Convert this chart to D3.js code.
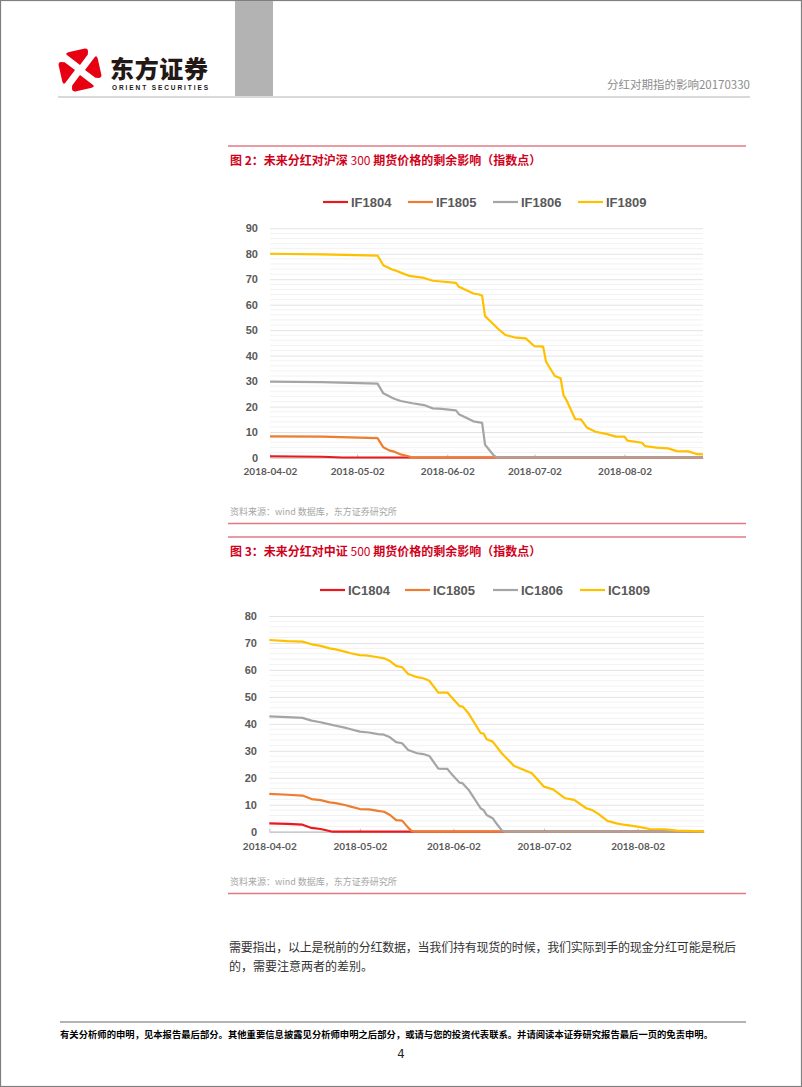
<!DOCTYPE html>
<html><head><meta charset="utf-8">
<script src="https://cdn.jsdelivr.net/npm/d3@7"></script>
<style>
html,body{margin:0;padding:0;background:#fff;}
svg{display:block;}
</style></head>
<body>
<svg id="page" width="802" height="1087"></svg>
<script>
// ---------- DATA ----------
const xTickLabels = ["2018-04-02","2018-05-02","2018-06-02","2018-07-02","2018-08-02"];
const ifYTicks = [0,10,20,30,40,50,60,70,80,90];
const icYTicks = [0,10,20,30,40,50,60,70,80];
const ifNames = ["IF1804","IF1805","IF1806","IF1809"];
const icNames = ["IC1804","IC1805","IC1806","IC1809"];
const seriesColors = ["#e8191f","#ed7d31","#a5a5a5","#ffc000"];

const IF1804 = [["2018-04-02",0.5],["2018-04-20",0.3],["2018-04-27",0],["2018-08-29",0]];
const IF1805 = [["2018-04-02",8.3],["2018-04-20",8.2],["2018-05-09",7.6],["2018-05-11",4.0],["2018-05-13",2.8],["2018-05-15",2.2],["2018-05-17",1.2],["2018-05-19",0.7],["2018-05-21",0],["2018-08-29",0]];
const IF1806 = [["2018-04-02",29.8],["2018-04-20",29.6],["2018-05-09",29.0],["2018-05-11",25.2],["2018-05-14",23.5],["2018-05-15",23.0],["2018-05-17",22.2],["2018-05-21",21.3],["2018-05-25",20.6],["2018-05-28",19.3],["2018-05-31",19.1],["2018-06-05",18.5],["2018-06-06",17.0],["2018-06-11",14.2],["2018-06-13",13.8],["2018-06-14",13.6],["2018-06-15",5.0],["2018-06-18",0.8],["2018-06-19",0],["2018-08-29",0]];
const IF1809 = [["2018-04-02",80.0],["2018-04-20",79.8],["2018-05-09",79.3],["2018-05-11",75.5],["2018-05-14",73.8],["2018-05-15",73.5],["2018-05-17",72.6],["2018-05-20",71.3],["2018-05-25",70.5],["2018-05-28",69.4],["2018-05-30",69.2],["2018-06-05",68.6],["2018-06-06",67.0],["2018-06-11",64.4],["2018-06-13",64.0],["2018-06-14",63.5],["2018-06-15",55.5],["2018-06-17",53.3],["2018-06-20",50.0],["2018-06-22",48.1],["2018-06-25",47.2],["2018-06-29",46.8],["2018-07-02",43.7],["2018-07-05",43.5],["2018-07-06",37.6],["2018-07-09",32.0],["2018-07-11",31.1],["2018-07-12",24.5],["2018-07-13",22.6],["2018-07-16",15.1],["2018-07-18",15.0],["2018-07-20",11.8],["2018-07-23",10.1],["2018-07-27",9.2],["2018-07-30",8.2],["2018-08-02",8.2],["2018-08-03",6.6],["2018-08-08",5.8],["2018-08-09",4.5],["2018-08-13",3.9],["2018-08-17",3.6],["2018-08-20",2.5],["2018-08-24",2.4],["2018-08-27",1.3],["2018-08-29",1.2]];

const IC1804 = [["2018-04-02",3.1],["2018-04-08",2.9],["2018-04-13",2.6],["2018-04-16",1.4],["2018-04-19",1.0],["2018-04-23",0],["2018-08-24",0]];
const IC1805 = [["2018-04-02",14.0],["2018-04-08",13.7],["2018-04-13",13.4],["2018-04-16",12.1],["2018-04-19",11.7],["2018-04-22",10.9],["2018-04-24",10.6],["2018-04-27",9.9],["2018-04-29",9.3],["2018-05-02",8.4],["2018-05-05",8.3],["2018-05-08",7.7],["2018-05-10",7.4],["2018-05-12",6.2],["2018-05-14",4.3],["2018-05-16",4.1],["2018-05-18",1.5],["2018-05-19",0.4],["2018-05-20",0],["2018-08-24",0]];
const IC1806 = [["2018-04-02",42.8],["2018-04-08",42.5],["2018-04-13",42.2],["2018-04-16",41.2],["2018-04-19",40.6],["2018-04-22",39.8],["2018-04-24",39.3],["2018-04-27",38.6],["2018-04-29",38.0],["2018-05-02",37.1],["2018-05-05",36.8],["2018-05-08",36.2],["2018-05-10",36.0],["2018-05-12",35.0],["2018-05-14",33.2],["2018-05-16",32.8],["2018-05-18",30.3],["2018-05-21",29.1],["2018-05-23",28.8],["2018-05-25",28.1],["2018-05-28",23.4],["2018-05-31",23.3],["2018-06-01",21.9],["2018-06-04",18.2],["2018-06-05",18.0],["2018-06-07",15.6],["2018-06-11",8.7],["2018-06-12",8.0],["2018-06-13",6.2],["2018-06-15",5.0],["2018-06-16",3.4],["2018-06-18",0.5],["2018-06-19",0],["2018-08-24",0]];
const IC1809 = [["2018-04-02",71.1],["2018-04-08",70.7],["2018-04-13",70.5],["2018-04-16",69.5],["2018-04-19",68.9],["2018-04-22",68.0],["2018-04-24",67.6],["2018-04-27",66.8],["2018-04-29",66.2],["2018-05-02",65.5],["2018-05-04",65.4],["2018-05-08",64.7],["2018-05-10",64.3],["2018-05-12",63.3],["2018-05-14",61.5],["2018-05-16",61.0],["2018-05-18",58.5],["2018-05-21",57.3],["2018-05-23",56.9],["2018-05-25",56.0],["2018-05-28",51.6],["2018-05-31",51.6],["2018-06-01",50.3],["2018-06-04",46.6],["2018-06-05",46.4],["2018-06-07",43.9],["2018-06-11",36.6],["2018-06-12",36.4],["2018-06-13",34.3],["2018-06-15",33.4],["2018-06-18",29.1],["2018-06-22",24.5],["2018-06-25",23.1],["2018-06-28",21.7],["2018-07-02",16.7],["2018-07-05",15.7],["2018-07-09",12.4],["2018-07-12",11.8],["2018-07-16",8.7],["2018-07-18",8.0],["2018-07-20",6.6],["2018-07-23",4.0],["2018-07-26",3.1],["2018-07-29",2.5],["2018-08-02",1.9],["2018-08-06",1.0],["2018-08-11",0.9],["2018-08-15",0.4],["2018-08-24",0.1]];

// ---------- PAGE ----------
const svg = d3.select("#page");
const CJK = "'Noto Sans CJK SC','Noto Sans',sans-serif";
const LAT = "'Liberation Sans',Arial,sans-serif";
const parse = d3.utcParse("%Y-%m-%d");

svg.append("rect").attr("x",0.5).attr("y",0.5).attr("width",801).attr("height",1086)
  .attr("fill","#fff").attr("stroke","#7f7f7f").attr("stroke-width",1.2);

// header gray bar
svg.append("rect").attr("x",235).attr("y",1).attr("width",38).attr("height",95).attr("fill","#b3b3b3");
// header line
svg.append("line").attr("x1",58).attr("x2",750).attr("y1",97).attr("y2",97)
  .attr("stroke","#d9d9d9").attr("stroke-width",2);

// logo
const logo = svg.append("g").attr("transform","translate(80,70) rotate(37)");
const petal = "M-3,-4 L-19,-4 Q-22,-4 -20,-7 L-9,-20 Q-7,-22 -5,-20 L-3,-17 Z";
[0,90,180,270].forEach(a=>{
  logo.append("path").attr("d",petal).attr("fill","#e60012").attr("transform",`rotate(${a})`);
});
logo.append("path").attr("d","M-22,-1 Q0,-3 22,1 M-1,-22 Q1,0 -1,22").attr("stroke","#fff").attr("stroke-width",1.2).attr("fill","none");
svg.append("text").attr("x",110).attr("y",78).attr("font-family",CJK).attr("font-weight",900)
  .attr("font-size",24).attr("fill","#231815").attr("textLength",98).text("东方证券");
svg.append("text").attr("x",112).attr("y",89.5).attr("font-family",LAT).attr("font-weight",700)
  .attr("font-size",6.5).attr("fill","#231815").attr("textLength",96).text("ORIENT  SECURITIES");
svg.append("text").attr("x",750).attr("y",89).attr("text-anchor","end").attr("font-family",CJK)
  .attr("font-size",11.5).attr("fill","#8c8c8c").text("分红对期指的影响20170330");

// ---------- CHART FUNCTION ----------
function drawChart(cfg){
  const g = svg.append("g");
  g.append("line").attr("x1",228).attr("x2",746).attr("y1",cfg.topLine).attr("y2",cfg.topLine)
    .attr("stroke","#e07a80").attr("stroke-width",1.5);
  const t = g.append("text").attr("x",230).attr("y",cfg.topLine+19).attr("font-family",CJK)
    .attr("font-size",12).attr("fill","#d0021b").attr("font-weight",700);
  t.append("tspan").text(cfg.titleA);
  t.append("tspan").attr("font-weight",400).text(cfg.titleNum);
  t.append("tspan").text(cfg.titleB);

  const x = d3.scaleUtc().domain([parse(xTickLabels[0]), parse(cfg.endDate)]).range(cfg.xRange);
  const y = d3.scaleLinear().domain([0, cfg.yMax]).range(cfg.yRange);

  const minor = d3.range(0, cfg.yMax+0.001, 2).filter(v=>v%10!==0);
  g.append("g").selectAll("line").data(minor).join("line")
    .attr("x1",cfg.xRange[0]).attr("x2",cfg.xRange[1])
    .attr("y1",d=>y(d)).attr("y2",d=>y(d)).attr("stroke","#f2f2f2").attr("stroke-width",1);
  const yAxis = d3.axisLeft(y).tickValues(cfg.yTicks).tickSize(-(cfg.xRange[1]-cfg.xRange[0])).tickPadding(12);
  const ya = g.append("g").attr("transform",`translate(${cfg.xRange[0]},0)`).call(yAxis);
  ya.select(".domain").remove();
  ya.selectAll(".tick line").attr("stroke","#e3e3e3").attr("stroke-width",1);
  ya.selectAll(".tick text").attr("font-family",LAT).attr("font-weight",700).attr("font-size",11)
    .attr("fill","#595959").attr("x",cfg.yLabelX-cfg.xRange[0]);

  const xAxis = d3.axisBottom(x).tickValues(xTickLabels.map(parse)).tickFormat(d3.utcFormat("%Y-%m-%d"))
    .tickSizeInner(-3).tickSizeOuter(0).tickPadding(8);
  const xa = g.append("g").attr("transform",`translate(0,${cfg.yRange[0]})`).call(xAxis);
  xa.select(".domain").attr("stroke","#bfbfbf").attr("stroke-width",1.2);
  xa.selectAll(".tick line").attr("stroke","#bfbfbf");
  xa.selectAll(".tick text").attr("font-family","Lato,'Open Sans',sans-serif").attr("font-weight",700)
    .attr("font-size",10).attr("fill","#595959").attr("y",cfg.xLabelY - cfg.yRange[0]).attr("dy",0);

  const line = d3.line().x(d=>x(parse(d[0]))).y(d=>y(d[1]));
  cfg.series.forEach((s,i)=>{
    g.append("path").datum(s).attr("d",line).attr("fill","none")
      .attr("stroke",seriesColors[i]).attr("stroke-width",2.2).attr("stroke-linejoin","round");
  });

  cfg.names.forEach((n,i)=>{
    const lx = cfg.legendX[i];
    g.append("line").attr("x1",lx).attr("x2",lx+25).attr("y1",cfg.legendY).attr("y2",cfg.legendY)
      .attr("stroke",seriesColors[i]).attr("stroke-width",2.2);
    g.append("text").attr("x",lx+28).attr("y",cfg.legendY+4.7).attr("font-family",LAT)
      .attr("font-weight",700).attr("font-size",13).attr("fill","#595959").text(n);
  });

  g.append("text").attr("x",230).attr("y",cfg.sourceY).attr("font-family",CJK).attr("font-size",9)
    .attr("fill","#a6a6a6").text("资料来源：wind 数据库，东方证券研究所");
  g.append("line").attr("x1",228).attr("x2",746).attr("y1",cfg.sourceY+8.5).attr("y2",cfg.sourceY+8.5)
    .attr("stroke","#e07a80").attr("stroke-width",1.5);
}

drawChart({
  topLine:146, titleA:"图 2：未来分红对沪深 ", titleNum:"300", titleB:" 期货价格的剩余影响（指数点）",
  endDate:"2018-08-29", xRange:[270,703], yRange:[457.5,228.3], yMax:90, yTicks:ifYTicks,
  yLabelX:258, xLabelY:474.5, series:[IF1804,IF1805,IF1806,IF1809], names:ifNames,
  legendX:[323,408,493,578], legendY:202, sourceY:515
});
drawChart({
  topLine:537, titleA:"图 3：未来分红对中证 ", titleNum:"500", titleB:" 期货价格的剩余影响（指数点）",
  endDate:"2018-08-24", xRange:[269.3,704], yRange:[831.7,616], yMax:80, yTicks:icYTicks,
  yLabelX:257, xLabelY:850, series:[IC1804,IC1805,IC1806,IC1809], names:icNames,
  legendX:[320,405,493,580], legendY:590, sourceY:885
});

const body = svg.append("text").attr("font-family",CJK).attr("font-size",12).attr("fill","#333");
body.append("tspan").attr("x",229).attr("y",952).attr("textLength",507)
  .text("需要指出，以上是税前的分红数据，当我们持有现货的时候，我们实际到手的现金分红可能是税后");
body.append("tspan").attr("x",229).attr("y",971).text("的，需要注意两者的差别。");

svg.append("line").attr("x1",60).attr("x2",746).attr("y1",1022).attr("y2",1022)
  .attr("stroke","#b3b3b3").attr("stroke-width",2);
svg.append("text").attr("x",60).attr("y",1038).attr("font-family",CJK).attr("font-weight",700)
  .attr("font-size",9.3).attr("fill","#000").attr("textLength",653)
  .text("有关分析师的申明，见本报告最后部分。其他重要信息披露见分析师申明之后部分，或请与您的投资代表联系。并请阅读本证券研究报告最后一页的免责申明。");
svg.append("text").attr("x",401).attr("y",1058).attr("text-anchor","middle").attr("font-family","'DejaVu Sans Condensed','DejaVu Sans',sans-serif")
  .attr("font-size",13).attr("fill","#222").text("4");
</script>
</body></html>
